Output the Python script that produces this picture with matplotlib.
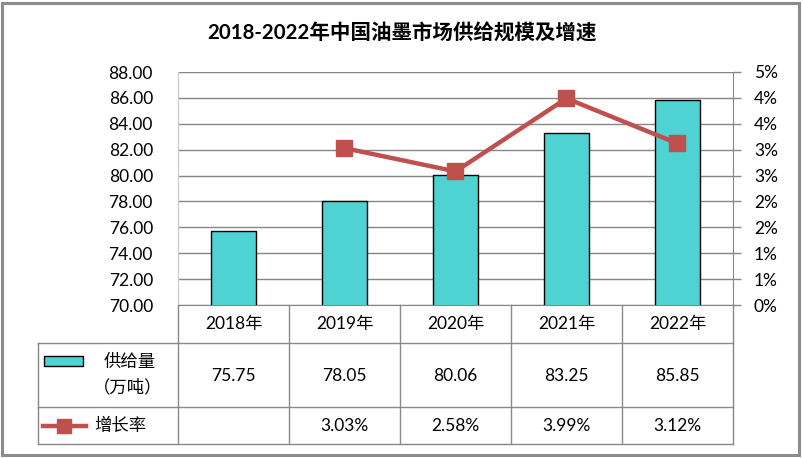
import matplotlib
matplotlib.use('Agg')
import matplotlib.pyplot as plt
import numpy as np
from matplotlib.lines import Line2D
from matplotlib.patches import Rectangle
from matplotlib.transforms import blended_transform_factory

plt.rcParams['font.family'] = ['Lato', 'Noto Sans CJK SC', 'DejaVu Sans']

# data
years = ['2018年', '2019年', '2020年', '2021年', '2022年']
supply = [75.75, 78.05, 80.06, 83.25, 85.85]
growth = [np.nan, 3.03, 2.58, 3.99, 3.12]
supply_labels = ['75.75', '78.05', '80.06', '83.25', '85.85']
growth_labels = ['', '3.03%', '2.58%', '3.99%', '3.12%']
left_ticks = [70, 72, 74, 76, 78, 80, 82, 84, 86, 88]
right_ticks = [0, 0.5, 1.0, 1.5, 2.0, 2.5, 3.0, 3.5, 4.0, 4.5]
right_labels = ['0%', '1%', '1%', '2%', '2%', '3%', '3%', '4%', '4%', '5%']

W, H = 804, 458
bar_color = '#4ED2D2'
line_color = '#C0504D'
grid_color = '#868686'
fs = 12.5


def fx(px):
    return px / W


def fy(py):
    return 1 - py / H


fig = plt.figure(figsize=(W / 100, H / 100), dpi=100)
ax = fig.add_axes([fx(178), fy(305), fx(555), 233 / H])

x = np.arange(len(years))
ax.bar(x, supply, width=0.41, color=bar_color, edgecolor='black', linewidth=1, zorder=3)
ax.set_xlim(-0.5, len(years) - 0.5)
ax.set_ylim(70, 88)
ax.set_yticks(left_ticks)
ax.set_yticklabels(['%.2f' % t for t in left_ticks])
ax.tick_params(axis='y', length=0, pad=18, labelsize=fs)
ax.set_xticks([])
ax.grid(axis='y', color=grid_color, linewidth=1, zorder=0)
ax.spines['top'].set_visible(False)
ax.spines['right'].set_visible(False)
ax.spines['left'].set_color('#c8c8c8')
ax.spines['bottom'].set_color(grid_color)

ax2 = ax.twinx()
ax2.plot(x, growth, color=line_color, linewidth=3.2, marker='s', markersize=11,
         zorder=4)
ax2.set_ylim(0, 4.5)
ax2.set_yticks(right_ticks)
ax2.set_yticklabels(right_labels)
ax2.tick_params(axis='y', length=6, width=1, color=grid_color, pad=9, labelsize=fs)
for s in ['top', 'left', 'bottom']:
    ax2.spines[s].set_visible(False)
ax2.spines['right'].set_color(grid_color)

# title
fig.text(0.5, fy(34), '2018-2022年中国油墨市场供给规模及增速', ha='center', va='center',
         fontsize=14.8, fontweight='bold')

# data table
tc = '#898989'
for yy in [343, 407, 444]:
    fig.add_artist(Line2D([fx(38), fx(733)], [fy(yy), fy(yy)], color=tc, lw=1))
fig.add_artist(Line2D([fx(38), fx(38)], [fy(343), fy(444)], color=tc, lw=1))
bt = blended_transform_factory(ax.transData, fig.transFigure)
for i in range(len(years) + 1):
    fig.add_artist(Line2D([i - 0.5, i - 0.5], [fy(305), fy(444)], color=tc, lw=1,
                          transform=bt))
for i in range(len(years)):
    fig.text(x[i], fy(324), years[i], transform=bt, ha='center', va='center', fontsize=fs)
    fig.text(x[i], fy(376), supply_labels[i], transform=bt, ha='center', va='center',
             fontsize=fs)
    fig.text(x[i], fy(426), growth_labels[i], transform=bt, ha='center', va='center',
             fontsize=fs)

# legend keys inside table
fig.add_artist(Rectangle((fx(44), fy(366)), fx(39), 10 / H, facecolor=bar_color,
                         edgecolor='black', lw=1))
fig.text(fx(130), fy(362), '供给量', ha='center', va='center', fontsize=fs)
fig.text(fx(128), fy(387), '（万吨）', ha='center', va='center', fontsize=fs)
fig.add_artist(Line2D([fx(43), fx(86)], [fy(426), fy(426)], color=line_color, lw=3.2))
fig.add_artist(Line2D([fx(64.5)], [fy(426)], color=line_color, marker='s',
                      markersize=10, lw=0))
fig.text(fx(120), fy(426), '增长率', ha='center', va='center', fontsize=fs)

# outer border
fig.add_artist(Rectangle((fx(2), fy(455)), fx(797), 452 / H, fill=False,
                         edgecolor='#8c8c8c', lw=2.2))

fig.savefig('out.png', dpi=100)
